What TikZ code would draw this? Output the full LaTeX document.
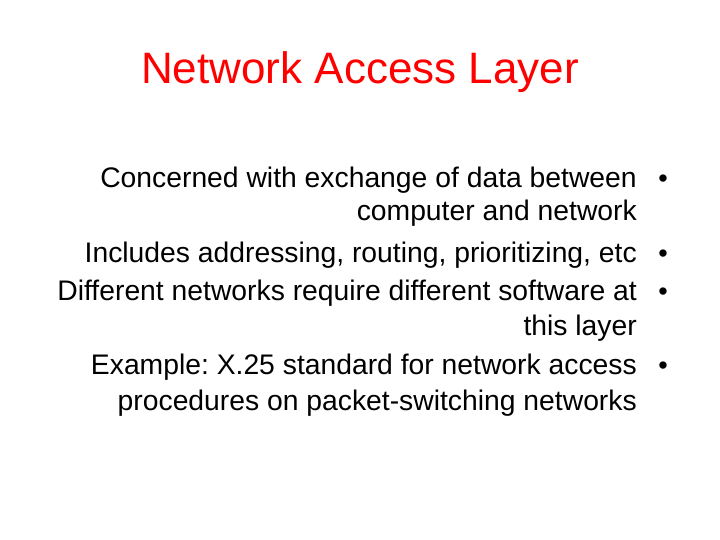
\documentclass[tikz,border=0pt]{standalone}
\usepackage{fontspec}
\setmainfont{Liberation Sans}
\frenchspacing
\begin{document}
\begin{tikzpicture}[x=1pt,y=-1pt,
  body/.style={anchor=base east,inner sep=0pt,font=\fontsize{28.3}{32}\selectfont},
  bul/.style={anchor=base,inner sep=0pt,font=\fontsize{27}{30}\selectfont}]
\useasboundingbox[fill=white] (0,0) rectangle (720,540);
\node[anchor=base,inner sep=0pt,text=red,font=\fontsize{44}{50}\selectfont] (title) at (360,84) {Network Access Layer};
\node[body] (l1) at (637,188) {Concerned with exchange of data between};
\node[body] (l2) at (637,221) {computer and network};
\node[body] (l3) at (637,262) {Includes addressing, routing, prioritizing, etc};
\node[body] (l4) at (637,300) {Different networks require different software at};
\node[body] (l5) at (637,335) {this layer};
\node[body] (l6) at (637,374) {Example: X.25 standard for network access};
\node[body] (l7) at (637,410) {procedures on packet-switching networks};
\node[bul] (b1) at (663,188) {•};
\node[bul] (b2) at (663,262) {•};
\node[bul] (b3) at (663,300) {•};
\node[bul] (b4) at (663,374) {•};
\end{tikzpicture}
\end{document}
